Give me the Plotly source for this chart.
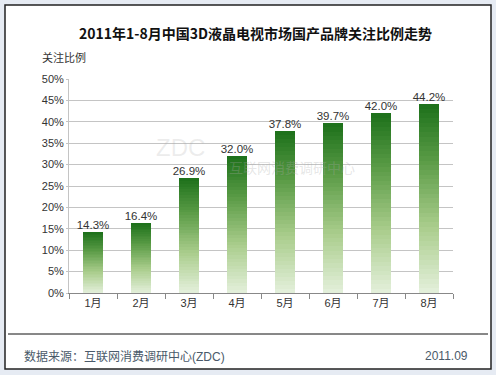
import plotly.graph_objects as go

categories = ["1月", "2月", "3月", "4月", "5月", "6月", "7月", "8月"]
values = [0.143, 0.164, 0.269, 0.320, 0.378, 0.397, 0.420, 0.442]
value_labels = ["14.3%", "16.4%", "26.9%", "32.0%", "37.8%", "39.7%", "42.0%", "44.2%"]

title_text = "2011年1-8月中国3D液晶电视市场国产品牌关注比例走势"
ytitle_text = "关注比例"
source_text = "数据来源：互联网消费调研中心(ZDC)"
date_text = "2011.09"

FONT = "Liberation Sans, Arial, Noto Sans CJK SC, sans-serif"

# plot-area pixel geometry
L, R, T, B = 69, 453, 79, 293
W, H = 496, 375
def px(x):
    return (x - L) / (R - L)
def py(y):
    return (B - y) / (B - T)

# gradient stops: bottom (pale) -> top (dark)
stops = [(0.0, (228, 240, 220)), (0.35, (170, 205, 140)), (0.7, (90, 155, 70)), (1.0, (28, 112, 26))]
def grad(t):
    for (t0, c0), (t1, c1) in zip(stops[:-1], stops[1:]):
        if t <= t1:
            f = (t - t0) / (t1 - t0)
            return "rgb(%d,%d,%d)" % tuple(round(a + (b - a) * f) for a, b in zip(c0, c1))
    return "rgb(%d,%d,%d)" % stops[-1][1]

N = 40
fig = go.Figure()
for i in range(N):
    fig.add_trace(go.Bar(
        x=categories, y=[v / N for v in values],
        marker=dict(color=grad((i + 0.5) / N), line=dict(width=0)),
        width=0.4, showlegend=False, hoverinfo="skip",
    ))

fig.add_trace(go.Scatter(
    x=categories, y=values, mode="text", text=value_labels,
    textposition="top center",
    textfont=dict(family=FONT, size=11.5, color="#333333"),
    showlegend=False, hoverinfo="skip", cliponaxis=False,
))

fig.update_layout(
    template="none",
    width=W, height=H,
    margin=dict(l=L, r=W - R, t=T, b=H - B, pad=0),
    barmode="stack", bargap=0.6,
    paper_bgcolor="#e6ebf3", plot_bgcolor="rgba(0,0,0,0)",
    font=dict(family=FONT, size=11, color="#333333"),
    xaxis=dict(
        type="category", showgrid=False, showline=True, linecolor="#888888", linewidth=1,
        ticks="outside", tickson="boundaries", ticklen=5, tickcolor="#888888",
        tickfont=dict(family=FONT, size=11, color="#333333"),
    ),
    yaxis=dict(
        range=[0, 0.5], dtick=0.05, tickformat=".0%",
        showgrid=True, gridcolor="#c4c4c4", gridwidth=1,
        showline=True, linecolor="#c4c4c4", zeroline=False,
        ticks="outside", ticklen=2, tickcolor="#c4c4c4",
        tickfont=dict(family=FONT, size=11, color="#333333"),
    ),
    shapes=[
        dict(type="rect", xref="paper", yref="paper", layer="below",
             x0=px(5), x1=px(491), y0=py(369), y1=py(5),
             fillcolor="white", line=dict(color="#222222", width=1.5)),
        dict(type="line", xref="paper", yref="paper",
             x0=px(8), x1=px(488), y0=py(334), y1=py(334),
             line=dict(color="#111111", width=1)),
    ],
    annotations=[
        dict(text=title_text, xref="paper", yref="paper", x=px(255), y=py(33),
             showarrow=False, xanchor="center", yanchor="middle",
             font=dict(family="Noto Sans CJK SC, sans-serif", size=14, color="#111111", weight="bold")),
        dict(text=ytitle_text, xref="paper", yref="paper", x=px(40), y=py(57),
             showarrow=False, xanchor="left", yanchor="middle",
             font=dict(family="Noto Sans CJK SC, sans-serif", size=11, color="#333333")),
        dict(text=source_text, xref="paper", yref="paper", x=px(22), y=py(356),
             showarrow=False, xanchor="left", yanchor="middle",
             font=dict(family=FONT, size=12, color="#4a5a6a")),
        dict(text=date_text, xref="paper", yref="paper", x=px(470), y=py(356),
             showarrow=False, xanchor="right", yanchor="middle",
             font=dict(family=FONT, size=12, color="#4a5a6a")),
        dict(text="ZDC", xref="paper", yref="paper", x=px(180), y=py(147),
             showarrow=False, xanchor="center", yanchor="middle",
             font=dict(family=FONT, size=24, color="rgba(170,170,170,0.22)")),
        dict(text="互联网消费调研中心", xref="paper", yref="paper", x=px(292), y=py(167),
             showarrow=False, xanchor="center", yanchor="middle",
             font=dict(family="Noto Sans CJK SC, sans-serif", size=14, color="rgba(170,170,170,0.3)")),
    ],
)

fig.write_html("out.html", config={"displayModeBar": False},
               post_script="document.body.style.margin='0';document.body.style.overflow='hidden';")
